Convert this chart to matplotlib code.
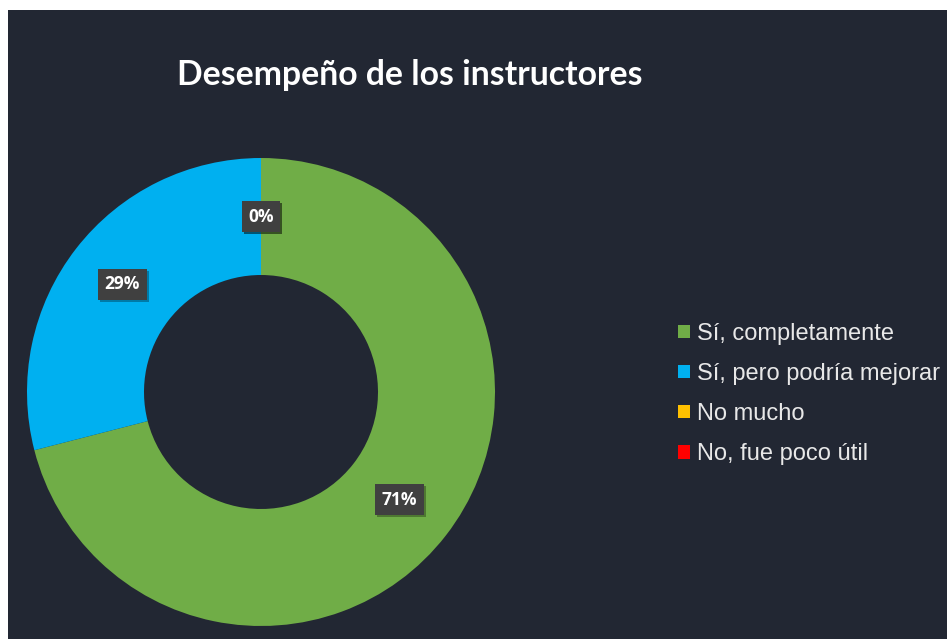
"""Donut chart: desempeño de los instructores."""

import matplotlib
matplotlib.use("Agg")
import matplotlib.pyplot as plt
import matplotlib.patheffects as pe
from matplotlib.patches import Rectangle
import numpy as np

categories = ["Sí, completamente", "Sí, pero podría mejorar", "No mucho", "No, fue poco útil"]
values = [71, 29, 0, 0]
colors = ["#70ad47", "#00b0f0", "#ffc000", "#ff0000"]
title = "Desempeño de los instructores"

BG = "#222733"
W, H = 947, 639

fig = plt.figure(figsize=(W / 100, H / 100), dpi=100, facecolor="white")
fig.patches.append(Rectangle((8 / W, 0), 1 - 8 / W, 1 - 10 / H, transform=fig.transFigure,
                             facecolor=BG, edgecolor="none", zorder=-1))

cx, cy, r = 261, 392, 234
ax = fig.add_axes([(cx - r) / W, (H - cy - r) / H, 2 * r / W, 2 * r / H])
ax.set_facecolor("none")
wedges, _ = ax.pie(values, colors=colors, startangle=90, counterclock=False, radius=1,
                   wedgeprops={"width": 0.5, "linewidth": 0})
ax.set_xlim(-1, 1)
ax.set_ylim(-1, 1)
ax.set_aspect("equal")
ax.axis("off")

# percentage labels at the middle of the ring
total = sum(values)
start = 90.0
for val in values:
    sweep = 360.0 * val / total
    mid = np.deg2rad(start - sweep / 2)
    start -= sweep
    t = ax.text(0.75 * np.cos(mid), 0.75 * np.sin(mid), f"{val}%", ha="center", va="center",
                color="white", fontsize=12.5, fontweight="bold", family="Open Sans",
                bbox={"boxstyle": "square,pad=0.38", "facecolor": "#404040", "edgecolor": "none"})
    t.get_bbox_patch().set_path_effects([
        pe.SimplePatchShadow(offset=(1.5, -1.5), shadow_rgbFace="black", alpha=0.3), pe.Normal()])

fig.text(410 / W, 1 - 85 / H, title, ha="center", va="baseline", color="white",
         fontsize=24.3, fontweight="bold", family="Lato")

fig.legend(wedges, categories, loc="center left", bbox_to_anchor=(678 / W, 1 - 394 / H),
           frameon=False, labelcolor="#e8e8e8", handlelength=0.5, handleheight=0.5,
           handletextpad=0.3, labelspacing=0.77, borderaxespad=0, borderpad=0,
           prop={"family": "Liberation Sans", "size": 17})

fig.savefig("out.png", dpi=100, facecolor=fig.get_facecolor())
